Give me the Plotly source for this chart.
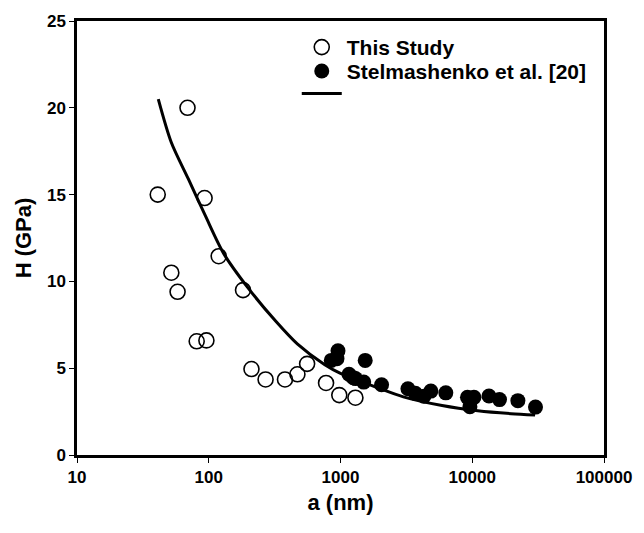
import plotly.graph_objects as go

# Indentation size a (nm) and hardness H (GPa)
a_study = [41, 52, 58, 69, 81, 93, 96, 119, 182, 211, 270, 379, 471, 558, 777, 979, 1298]
H_study = [15.0, 10.5, 9.4, 20.0, 6.55, 14.8, 6.6, 11.45, 9.5, 4.95, 4.35, 4.35, 4.65, 5.25, 4.15, 3.45, 3.3]

a_stel = [851, 940, 957, 1160, 1250, 1300, 1500, 1540, 2050, 3250, 3700, 4300, 4850,
          6300, 9200, 9600, 10300, 13400, 16100, 22200, 30200]
H_stel = [5.45, 5.55, 6.0, 4.65, 4.45, 4.4, 4.2, 5.45, 4.05, 3.82, 3.55, 3.38, 3.68,
          3.58, 3.32, 2.78, 3.32, 3.4, 3.19, 3.13, 2.76]

a_fit = [41.4, 52, 70, 94, 130, 200, 323, 470, 760, 1000, 1880, 3000, 5900, 11000, 19700, 30000]
H_fit = [20.5, 18.0, 15.9, 13.8, 11.6, 9.6, 7.7, 6.4, 5.2, 4.7, 3.9, 3.35, 2.85, 2.55, 2.38, 2.3]

x_ticks = [10, 100, 1000, 10000, 100000]
x_ticktext = ["10", "100", "1000", "10000", "100000"]
y_ticks = [0, 5, 10, 15, 20, 25]

FONT = "Liberation Sans, Arial, Helvetica, sans-serif"

fig = go.Figure()

fig.add_trace(go.Scatter(
    x=a_fit, y=H_fit, mode="lines", name=" ",
    line=dict(color="black", width=3, shape="spline", smoothing=0.8),
    legend="legend3",
))
fig.add_trace(go.Scatter(
    x=a_study, y=H_study, mode="markers", name="This Study",
    marker=dict(symbol="circle-open", size=15, color="black", line=dict(width=1.6)),
    legend="legend",
))
fig.add_trace(go.Scatter(
    x=a_stel, y=H_stel, mode="markers", name="Stelmashenko et al. [20]",
    marker=dict(symbol="circle", size=15, color="black", line=dict(width=0)),
    legend="legend2",
))

legend_common = dict(
    xref="paper", yref="paper", xanchor="left", yanchor="middle",
    bgcolor="rgba(0,0,0,0)", borderwidth=0, itemwidth=40,
    font=dict(family=FONT, size=21, color="black", weight="bold"),
)

fig.update_layout(
    width=644, height=533,
    margin=dict(l=77, r=29, t=16, b=78),
    paper_bgcolor="white", plot_bgcolor="white",
    font=dict(family=FONT, color="black"),
    showlegend=True,
    legend=dict(x=0.417, y=0.939, **legend_common),
    legend2=dict(x=0.417, y=0.884, **legend_common),
    legend3=dict(x=0.417, y=0.832, **legend_common),
    xaxis=dict(
        type="log", range=[1, 5],
        tickvals=x_ticks, ticktext=x_ticktext,
        showline=True, linecolor="black", linewidth=2.5, mirror=True,
        ticks="outside", ticklen=5, tickwidth=1, tickcolor="black",
        showgrid=False, zeroline=False,
        tickfont=dict(family=FONT, size=17, color="black", weight="bold"),
        title=dict(text="a (nm)", standoff=9,
                   font=dict(family=FONT, size=22, color="black", weight="bold")),
    ),
    yaxis=dict(
        range=[0, 25], tickvals=y_ticks,
        showline=True, linecolor="black", linewidth=2.5, mirror=True,
        ticks="outside", ticklen=5, tickwidth=1, tickcolor="black",
        showgrid=False, zeroline=False,
        tickfont=dict(family=FONT, size=17, color="black", weight="bold"),
        title=dict(text="H (GPa)", standoff=10,
                   font=dict(family=FONT, size=22, color="black", weight="bold")),
    ),
)

fig.write_html("out.html")
